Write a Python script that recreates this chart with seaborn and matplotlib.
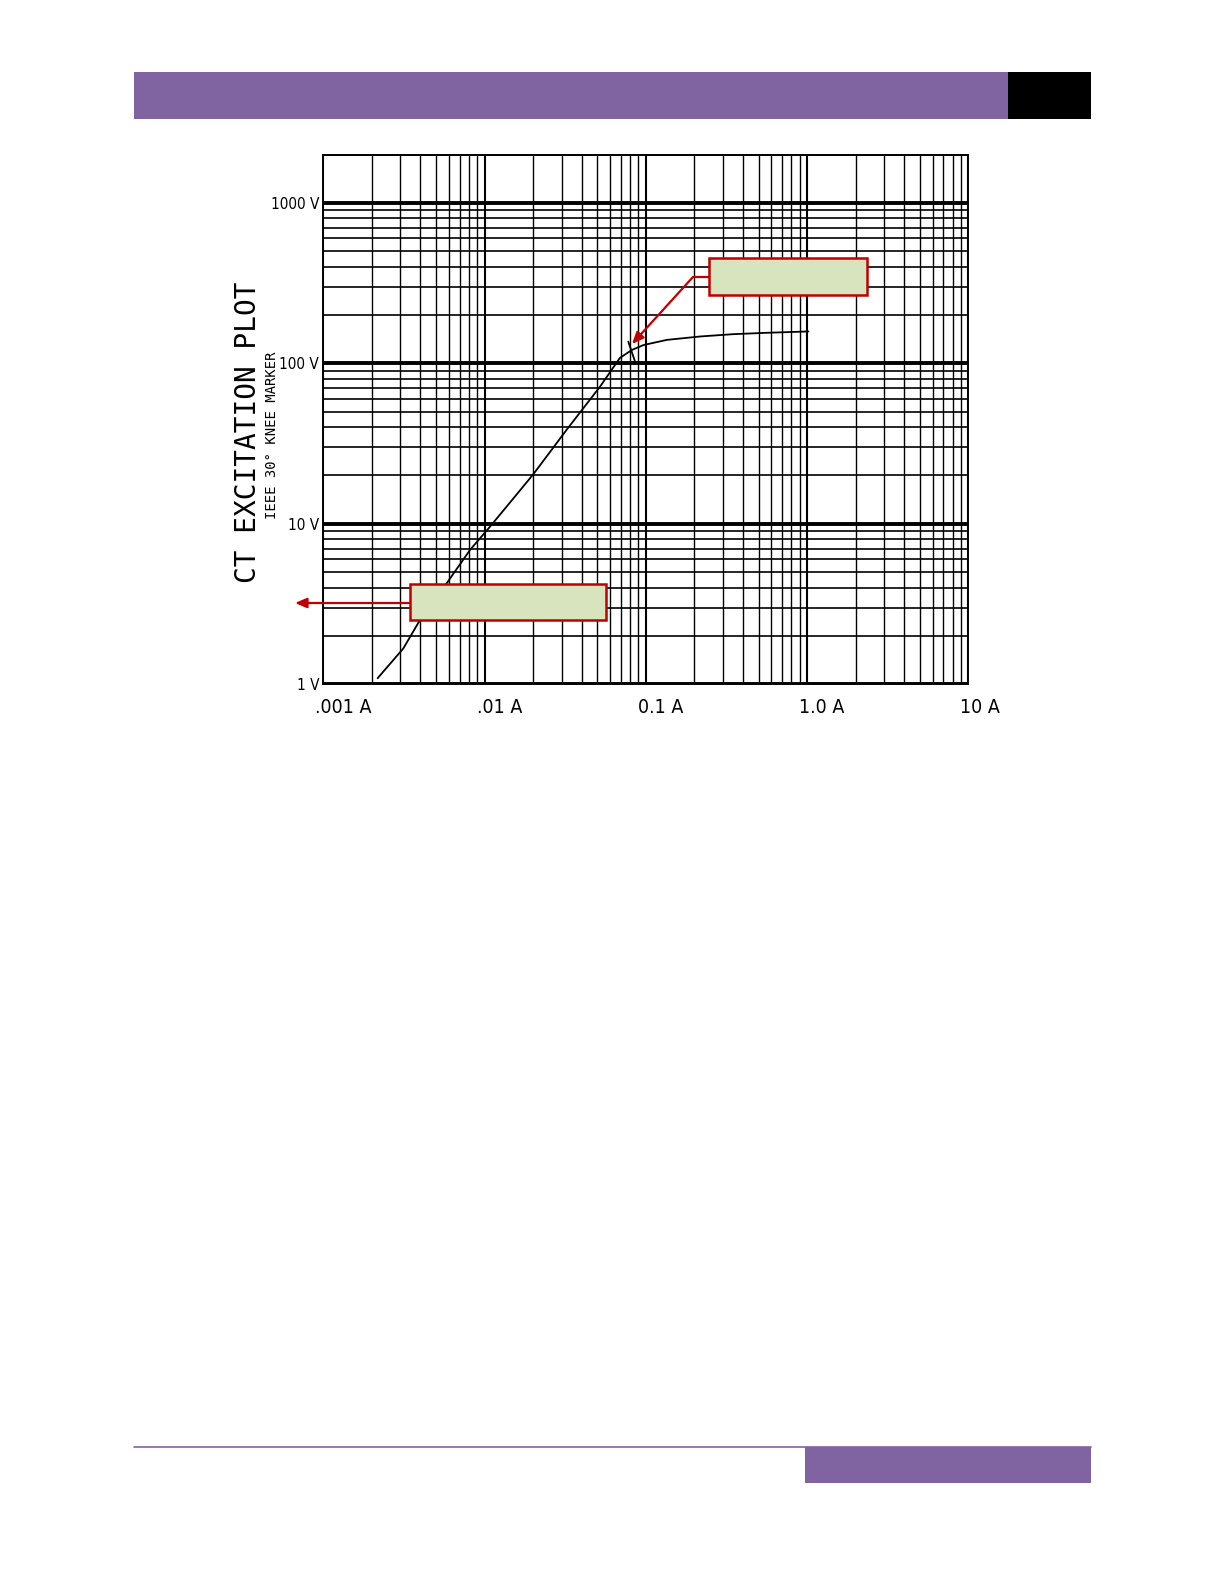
import numpy as np
import matplotlib
matplotlib.use("Agg")
import matplotlib.pyplot as plt
import seaborn as sns
from matplotlib.patches import Rectangle
from matplotlib.lines import Line2D
from matplotlib.ticker import FixedLocator, LogLocator, NullFormatter
from matplotlib.transforms import ScaledTranslation
from matplotlib import font_manager
from matplotlib.font_manager import FontProperties

# =============================
# DATA
# =============================
current = [0.00217, 0.00313, 0.00397, 0.00582, 0.00812, 0.0108, 0.0137, 0.020,
           0.0323, 0.052, 0.069, 0.0817, 0.0966, 0.135, 0.217, 0.349, 0.562, 1.02]
voltage = [1.09, 1.67, 2.51, 4.26, 6.87, 9.6, 12.8, 20.3,
           38.6, 71.6, 108, 121, 130, 140, 147, 152, 155, 158]

knee_current = [0.0778, 0.0857]
knee_voltage = [136.6, 102.5]

x_ticks = [0.001, 0.01, 0.1, 1.0, 10]
x_labels = [".001 A", ".01 A", "0.1 A", "1.0 A", "10 A"]
y_ticks = [1, 10, 100, 1000]
y_labels = ["1 V", "10 V", "100 V", "1000 V"]

title = "CT EXCITATION PLOT"
subtitle = "IEEE 30° KNEE MARKER"

PURPLE = "#8064A2"
RED = "#C00000"
GREEN = "#D7E4BD"

sns.set_style("white")
plt.rcParams["font.family"] = ["DejaVu Sans"]
plt.rcParams["text.color"] = "black"
plt.rcParams["xtick.color"] = "black"
plt.rcParams["ytick.color"] = "black"

# look for a condensed / narrow face for the tick labels
cands = [f for f in font_manager.fontManager.ttflist
         if ("condensed" in str(f.stretch).lower() or "narrow" in f.name.lower()
             or "condensed" in f.name.lower())
         and f.style == "normal" and f.weight in (400, "normal", "regular")
         and "mono" not in f.name.lower() and "serif" not in f.name.lower().replace("sans", "")]
if cands:
    x_font = FontProperties(fname=cands[0].fname, size=14)
    y_font = FontProperties(fname=cands[0].fname, size=11)
else:
    x_font = FontProperties(family="DejaVu Sans", size=12)
    y_font = FontProperties(family="DejaVu Sans", size=10)

W, H = 1225, 1585
fig = plt.figure(figsize=(W / 100, H / 100), dpi=100)
fig.patch.set_facecolor("white")


def fbox(x0, y0, x1, y1):
    # page pixel box (top-left origin) -> figure fraction rect
    return (x0 / W, 1 - y1 / H), (x1 - x0) / W, (y1 - y0) / H


# =============================
# PAGE HEADER / FOOTER
# =============================
for (x0, y0, x1, y1, c) in [(134, 72, 1008, 119, PURPLE), (1008, 72, 1091, 119, "black"),
                            (805, 1447, 1091, 1483, PURPLE)]:
    xy, w, h = fbox(x0, y0, x1, y1)
    fig.add_artist(Rectangle(xy, w, h, transform=fig.transFigure, color=c, lw=0))
fig.add_artist(Line2D([134 / W, 1091 / W], [1 - 1447 / H] * 2, transform=fig.transFigure,
                      color=PURPLE, lw=1.2))

# =============================
# PLOT
# =============================
ax = fig.add_axes([323.4 / W, 1 - 684.2 / H, (968.3 - 323.4) / W, (684.2 - 154.6) / H])
ax.set_xscale("log")
ax.set_yscale("log")
ax.set_xlim(0.001, 10)
ax.set_ylim(1, 2000)

ax.xaxis.set_major_locator(FixedLocator(x_ticks))
ax.yaxis.set_major_locator(FixedLocator(y_ticks))
ax.xaxis.set_minor_locator(LogLocator(base=10, subs=np.arange(2, 10), numticks=100))
ax.yaxis.set_minor_locator(LogLocator(base=10, subs=np.arange(2, 10), numticks=100))
ax.xaxis.set_minor_formatter(NullFormatter())
ax.yaxis.set_minor_formatter(NullFormatter())
ax.set_xticklabels(x_labels, fontproperties=x_font)
ax.set_yticklabels(y_labels, fontproperties=y_font)

ax.xaxis.grid(True, which="major", color="black", lw=1.5)
ax.xaxis.grid(True, which="minor", color="black", lw=1.0)
ax.yaxis.grid(True, which="major", color="black", lw=2.8)
ax.yaxis.grid(True, which="minor", color="black", lw=1.2)
ax.tick_params(axis="x", which="major", direction="out", length=7, width=1.2, pad=3)
ax.tick_params(axis="y", which="major", length=0, pad=3)
ax.tick_params(which="minor", length=0)
for s in ax.spines.values():
    s.set_color("black")
    s.set_linewidth(1.4)

shift = ScaledTranslation(-0.08, 0, fig.dpi_scale_trans)
for lab in ax.get_xticklabels():
    lab.set_ha("left")
    lab.set_transform(lab.get_transform() + shift)

sns.lineplot(x=current, y=voltage, ax=ax, sort=False, estimator=None,
             color="black", lw=1.3)
ax.plot(knee_current, knee_voltage, color="black", lw=1.3)

# rotated side titles
fig.text(248 / W, 1 - 432 / H, title, rotation=90, ha="center", va="center",
         fontsize=20, fontfamily="DejaVu Sans Mono")
fig.text(272 / W, 1 - 435 / H, subtitle, rotation=90, ha="center", va="center",
         fontsize=10, fontfamily="DejaVu Sans Mono")

# =============================
# CALLOUT BOXES
# =============================
arrow = dict(arrowstyle="-|>,head_length=0.7,head_width=0.3", color=RED, lw=1.6,
             shrinkA=0, shrinkB=0)
fig.add_artist(Line2D([693 / W, 709 / W], [1 - 277 / H] * 2, transform=fig.transFigure,
                      color=RED, lw=1.6))
ax.annotate("", xy=(0.0821, 132), xycoords="data", xytext=(693, H - 277),
            textcoords="figure pixels", arrowprops=arrow)
ax.annotate("", xy=(295, H - 603), xycoords="figure pixels", xytext=(410, H - 603),
            textcoords="figure pixels", arrowprops=arrow, annotation_clip=False)

for (x0, y0, x1, y1) in [(709, 258, 867, 295), (410, 584, 606, 620)]:
    xy, w, h = fbox(x0, y0, x1, y1)
    fig.add_artist(Rectangle(xy, w, h, transform=fig.transFigure, facecolor=GREEN,
                             edgecolor=RED, lw=1.8, zorder=3))

fig.savefig("out.png", dpi=100)
